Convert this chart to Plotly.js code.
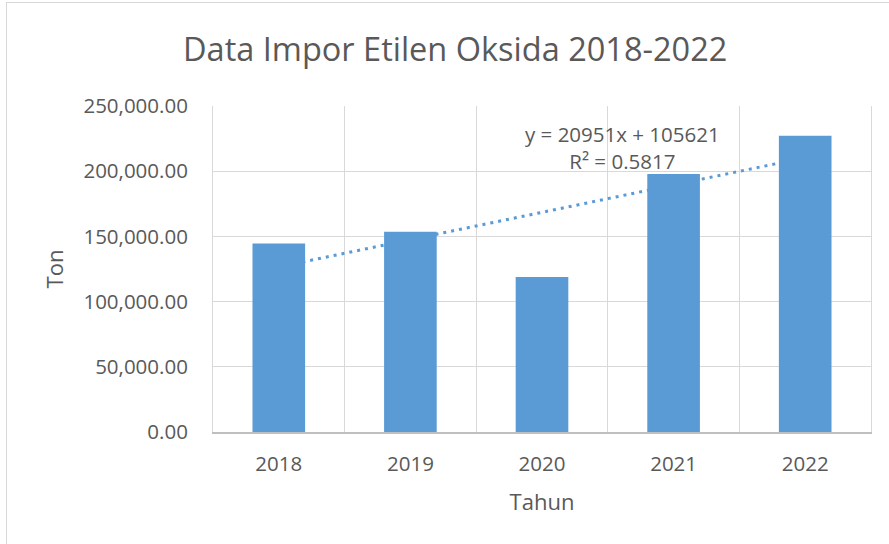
<!DOCTYPE html>
<html>
<head>
<meta charset="utf-8">
<script src="https://cdn.plot.ly/plotly-3.0.1.min.js"></script>
<style>
  html, body { margin: 0; padding: 0; background: #ffffff; }
  #frame { position: absolute; left: 6px; top: 2px; width: 1000px; height: 1000px; border: 1px solid #d9d9d9; box-sizing: border-box; }
  #chart { position: absolute; left: 0; top: 0; width: 889px; height: 544px; }
</style>
</head>
<body>
<div id="frame"></div>
<div id="chart"></div>
<script>
const years = ['2018', '2019', '2020', '2021', '2022'];
const imports = [144600, 153600, 118900, 197900, 227200];
const trendSlope = 20951;
const trendIntercept = 105621;
const rSquared = 0.5817;
const yTicks = [0, 50000, 100000, 150000, 200000, 250000];

const trendY = years.map((_, i) => trendSlope * (i + 1) + trendIntercept);

const textColor = '#595959';
const fontFam = '"Open Sans", sans-serif';

const trend = {
  type: 'scatter', mode: 'lines', x: years, y: trendY,
  xaxis: 'x', yaxis: 'y',
  line: { color: '#5b9bd5', width: 3, dash: '3px,5px' },
  hoverinfo: 'skip', showlegend: false
};
const bars = {
  type: 'bar', x: years, y: imports,
  xaxis: 'x2', yaxis: 'y2',
  marker: { color: '#5b9bd5' },
  showlegend: false
};

const layout = {
  width: 889, height: 544,
  margin: { l: 213, r: 18, t: 106, b: 112 },
  paper_bgcolor: 'rgba(0,0,0,0)', plot_bgcolor: 'rgba(0,0,0,0)',
  font: { family: fontFam, color: textColor },
  title: { text: 'Data Impor Etilen Oksida 2018-2022', font: { size: 32.5, color: textColor, family: fontFam }, x: 0.512, xanchor: 'center', y: 1 - 50/544, yanchor: 'middle' },
  bargap: 0.6,
  xaxis: {
    type: 'category', range: [-0.5, 4.5], tickson: 'boundaries',
    showgrid: true, gridcolor: '#d9d9d9', gridwidth: 1,
    showline: true, linecolor: '#bfbfbf', linewidth: 1.5,
    ticks: '', ticklabelstandoff: 13,
    tickfont: { size: 20.5, color: textColor },
    title: { text: 'Tahun', font: { size: 22, color: textColor }, standoff: 18 },
    fixedrange: true
  },
  yaxis: {
    range: [0, 250000], tickvals: yTicks, tickformat: ',.2f',
    showgrid: true, gridcolor: '#d9d9d9', gridwidth: 1, zeroline: false,
    showline: true, mirror: true, linecolor: '#d9d9d9', linewidth: 1,
    ticks: 'outside', ticklen: 20, tickcolor: 'rgba(0,0,0,0)',
    tickfont: { size: 20.5, color: textColor },
    title: { text: 'Ton', font: { size: 22, color: textColor }, standoff: 13 },
    fixedrange: true
  },
  xaxis2: { type: 'category', overlaying: 'x', range: [-0.5, 4.5], visible: false, showgrid: false },
  yaxis2: { overlaying: 'y', range: [0, 250000], visible: false, showgrid: false, zeroline: false },
  annotations: [{
    xref: 'paper', yref: 'paper', x: 0.623, y: 0.8735, xanchor: 'center', yanchor: 'middle',
    text: 'y = ' + trendSlope + 'x + ' + trendIntercept + '<br>R² = ' + rSquared,
    showarrow: false, align: 'center',
    font: { size: 20.5, color: textColor, family: fontFam }
  }]
};

Plotly.newPlot('chart', [trend, bars], layout, { displayModeBar: false, staticPlot: true });
</script>
</body>
</html>
